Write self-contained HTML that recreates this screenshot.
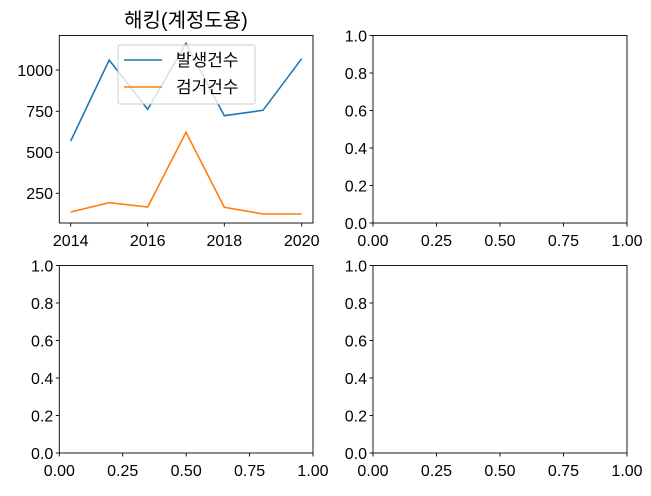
<!DOCTYPE html>
<html><head><meta charset="utf-8"><style>
body{margin:0;background:#fff}
text{font-family:"Liberation Sans","Noto Sans CJK KR",sans-serif;font-size:16px;fill:#000}
</style></head><body>
<svg width="651" height="491" xmlns="http://www.w3.org/2000/svg">
<rect width="651" height="491" fill="#fff"/>
<text x="186" y="27" text-anchor="middle" style="font-size:20px">해킹(계정도용)</text>
<polyline fill="none" stroke="#1f77b4" stroke-width="1.6" points="70.7,141 109.2,60 147.7,109.3 186,43.3 224.3,115.7 263,110.3 301.7,58.7"/>
<polyline fill="none" stroke="#ff7f0e" stroke-width="1.6" points="70.7,212 109.2,202.7 147.7,207 186,132.3 224.3,207.3 263,214 301.7,214"/>
<rect x="59.3" y="35.5" width="253.7" height="187.5" fill="none" stroke="#000" stroke-width="0.9"/>
<g stroke="#000" stroke-width="0.9">
<line x1="55.8" x2="59.3" y1="70" y2="70"/><line x1="55.8" x2="59.3" y1="111.3" y2="111.3"/><line x1="55.8" x2="59.3" y1="152.3" y2="152.3"/><line x1="55.8" x2="59.3" y1="193.3" y2="193.3"/>
<line x1="70.7" x2="70.7" y1="223" y2="226.5"/><line x1="147.7" x2="147.7" y1="223" y2="226.5"/><line x1="224.3" x2="224.3" y1="223" y2="226.5"/><line x1="301.7" x2="301.7" y1="223" y2="226.5"/>
</g>
<g text-anchor="end"><text x="53" y="76">1000</text><text x="53" y="117">750</text><text x="53" y="158">500</text><text x="53" y="199">250</text></g>
<g text-anchor="middle"><text x="70.7" y="246">2014</text><text x="147.7" y="246">2016</text><text x="224.3" y="246">2018</text><text x="301.7" y="246">2020</text></g>
<rect x="118" y="45" width="137" height="59" rx="2" fill="#fff" fill-opacity="0.8" stroke="#ccc" stroke-width="0.9"/>
<line x1="124" x2="162" y1="60" y2="60" stroke="#1f77b4" stroke-width="1.6"/>
<line x1="124" x2="162" y1="87" y2="87" stroke="#ff7f0e" stroke-width="1.6"/>
<text x="176" y="66" style="font-size:17px">발생건수</text>
<text x="176" y="93" style="font-size:17px">검거건수</text>
</svg>
<script>
const svg=document.querySelector('svg');const ns='http://www.w3.org/2000/svg';
function el(t,a,txt){const e=document.createElementNS(ns,t);for(const k in a)e.setAttribute(k,a[k]);if(txt!==undefined)e.textContent=txt;svg.appendChild(e);}
function ax(L,T,W,H){
 el('rect',{x:L,y:T,width:W,height:H,fill:'none',stroke:'#000','stroke-width':0.9});
 const lab=['0.0','0.2','0.4','0.6','0.8','1.0'],xl=['0.00','0.25','0.50','0.75','1.00'];
 for(let i=0;i<6;i++){const y=T+H-H*i/5;el('line',{x1:L-3.5,x2:L,y1:y,y2:y,stroke:'#000','stroke-width':0.9});el('text',{x:L-6,y:y+6,'text-anchor':'end'},lab[i]);}
 for(let i=0;i<5;i++){const x=L+W*i/4;el('line',{x1:x,x2:x,y1:T+H,y2:T+H+3.5,stroke:'#000','stroke-width':0.9});el('text',{x:x,y:T+H+23,'text-anchor':'middle'},xl[i]);}
}
ax(373,35.5,254,187.5);ax(59.3,265.5,253.7,187.5);ax(373,265.5,254,187.5);
</script>
</body></html>
